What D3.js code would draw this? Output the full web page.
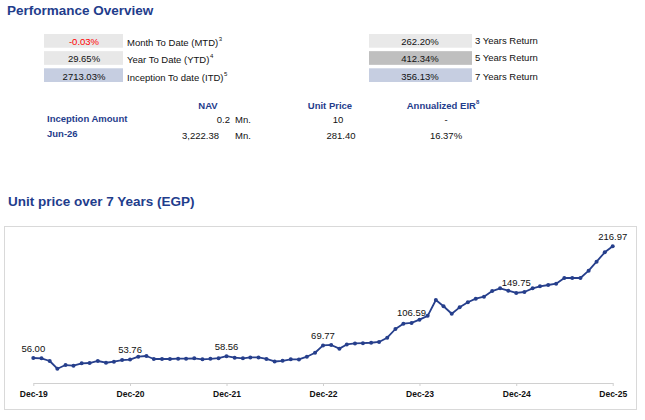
<!DOCTYPE html>
<html><head><meta charset="utf-8">
<script src="https://cdn.jsdelivr.net/npm/d3@7"></script>
<style>
body{margin:0;background:#fff;}
svg{display:block;font-family:"Liberation Sans",Arial,sans-serif;}
</style></head>
<body>
<svg id="c" width="645" height="420"></svg>
<script>
// ---------- data ----------
const perfValues = ["-0.03%", "29.65%", "2713.03%"];
const perfLabels = ["Month To Date (MTD)", "Year To Date (YTD)", "Inception To date (ITD)"];
const perfNotes = ["3", "4", "5"];
const retValues = ["262.20%", "412.34%", "356.13%"];
const retLabels = ["3 Years Return", "5 Years Return", "7 Years Return"];

const navHeaders = ["NAV", "Unit Price", "Annualized EIR"];
const navRowNames = ["Inception Amount", "Jun-26"];
const navAmounts = ["0.2", "3,222.38"];
const navUnits = ["Mn.", "Mn."];
const navPrices = ["10", "281.40"];
const navEIR = ["-", "16.37%"];

const months = [
  "2019-12",
  "2020-01","2020-02","2020-03","2020-04","2020-05","2020-06","2020-07","2020-08","2020-09","2020-10","2020-11","2020-12",
  "2021-01","2021-02","2021-03","2021-04","2021-05","2021-06","2021-07","2021-08","2021-09","2021-10","2021-11","2021-12",
  "2022-01","2022-02","2022-03","2022-04","2022-05","2022-06","2022-07","2022-08","2022-09","2022-10","2022-11","2022-12",
  "2023-01","2023-02","2023-03","2023-04","2023-05","2023-06","2023-07","2023-08","2023-09","2023-10","2023-11","2023-12",
  "2024-01","2024-02","2024-03","2024-04","2024-05","2024-06","2024-07","2024-08","2024-09","2024-10","2024-11","2024-12",
  "2025-01","2025-02","2025-03","2025-04","2025-05","2025-06","2025-07","2025-08","2025-09","2025-10","2025-11","2025-12"
];
const unitPrice = [
  56.00,
  55.6, 51.7, 40.6, 45.9, 44.9, 48.4, 48.8, 51.7, 49.2, 50.7, 53.1, 53.76,
  57.9, 58.9, 54.6, 54.6, 54.6, 55.0, 55.0, 55.5, 54.1, 54.8, 55.8, 58.56,
  56.5, 55.5, 56.8, 56.8, 54.6, 51.0, 51.9, 54.1, 53.9, 57.9, 63.6, 74.2,
  74.8, 69.5, 75.5, 77.0, 77.4, 78.0, 79.1, 85.3, 97.8, 105.4, 106.59, 111.3,
  116.8, 139.6, 130.6, 119.8, 129.0, 136.3, 141.5, 144.4, 152.5, 156.4, 153.0, 149.75,
  151.1, 156.4, 159.3, 161.2, 163.1, 171.3, 171.3, 171.3, 181.8, 194.8, 208.3, 216.97
];
const labelMonths = ["2019-12", "2020-12", "2021-12", "2022-12", "2023-11", "2024-12", "2025-12"];
const labelTexts = ["56.00", "53.76", "58.56", "69.77", "106.59", "149.75", "216.97"];
const tickMonths = ["2019-12", "2020-12", "2021-12", "2022-12", "2023-12", "2024-12", "2025-12"];
const tickLabels = ["Dec-19", "Dec-20", "Dec-21", "Dec-22", "Dec-23", "Dec-24", "Dec-25"];

// ---------- drawing ----------
const svg = d3.select("#c");
const BLUE = "#1f3d8c";
const TXT = "#111";
const parse = d3.timeParse("%Y-%m");

// Titles
svg.append("text").attr("x", 7).attr("y", 14.5)
  .attr("font-size", 13.5).attr("font-weight", "bold").attr("fill", BLUE)
  .text("Performance Overview");
svg.append("text").attr("x", 8).attr("y", 206)
  .attr("font-size", 13.5).attr("font-weight", "bold").attr("fill", BLUE)
  .text("Unit price over 7 Years (EGP)");

// Performance boxes
const rowY = d3.scaleBand().domain(d3.range(3)).range([34, 82]).paddingInner(0.2);
const leftFill = ["#e8e8e8", "#e8e8e8", "#c6cee1"];
const rightFill = ["#e9e9e9", "#bfbfbf", "#c6cee1"];

const left = svg.append("g");
left.selectAll("rect").data(perfValues).join("rect")
  .attr("x", 44).attr("width", 79)
  .attr("y", (d, i) => rowY(i)).attr("height", rowY.bandwidth())
  .attr("fill", (d, i) => leftFill[i]);
left.selectAll("text.v").data(perfValues).join("text").attr("class", "v")
  .attr("x", 84).attr("y", (d, i) => rowY(i) + rowY.bandwidth() - 2.5)
  .attr("text-anchor", "middle").attr("font-size", 9.5)
  .attr("fill", d => d.startsWith("-") ? "#ff0000" : TXT).text(d => d);
const ll = left.selectAll("text.l").data(perfLabels).join("text").attr("class", "l")
  .attr("x", 127).attr("y", (d, i) => rowY(i) + rowY.bandwidth() - 1.5 + (i === 2 ? 0.5 : 0))
  .attr("font-size", 9.5).attr("fill", TXT);
ll.append("tspan").text(d => d);
ll.append("tspan").attr("font-size", 6).attr("dy", -5).attr("dx", 0.5).text((d, i) => perfNotes[i]);

const right = svg.append("g");
right.selectAll("rect").data(retValues).join("rect")
  .attr("x", 369).attr("width", 103)
  .attr("y", (d, i) => rowY(i)).attr("height", rowY.bandwidth())
  .attr("fill", (d, i) => rightFill[i]);
right.selectAll("text.v").data(retValues).join("text").attr("class", "v")
  .attr("x", 420).attr("y", (d, i) => rowY(i) + rowY.bandwidth() - 2.5)
  .attr("text-anchor", "middle").attr("font-size", 9.5).attr("fill", TXT).text(d => d);
right.selectAll("text.l").data(retLabels).join("text").attr("class", "l")
  .attr("x", 475).attr("y", (d, i) => rowY(i) + rowY.bandwidth() - 3.5 + (i === 2 ? 1.5 : 0))
  .attr("font-size", 9.5).attr("fill", TXT).text(d => d);

// NAV table
const nav = svg.append("g");
const headerX = [208, 330, 443];
nav.selectAll("text.h").data(navHeaders).join("text").attr("class", "h")
  .attr("x", (d, i) => headerX[i]).attr("y", 109)
  .attr("text-anchor", "middle").attr("font-size", 9.5).attr("font-weight", "bold").attr("fill", BLUE)
  .each(function (d, i) {
    const t = d3.select(this);
    t.append("tspan").text(d);
    if (i === 2) t.append("tspan").attr("font-size", 6).attr("dy", -5).text("8");
  });
const navRowY = [122, 138];
nav.selectAll("text.r").data(navRowNames).join("text").attr("class", "r")
  .attr("x", 47).attr("y", (d, i) => navRowY[i] - (i === 0 ? 0 : 1))
  .attr("font-size", 9.5).attr("font-weight", "bold").attr("fill", BLUE).text(d => d);
const amtRight = [230, 219];
nav.selectAll("text.a").data(navAmounts).join("text").attr("class", "a")
  .attr("x", (d, i) => amtRight[i]).attr("y", (d, i) => navRowY[i] + 1)
  .attr("text-anchor", "end").attr("font-size", 9.5).attr("fill", TXT).text(d => d);
nav.selectAll("text.u").data(navUnits).join("text").attr("class", "u")
  .attr("x", 235).attr("y", (d, i) => navRowY[i] + 1)
  .attr("font-size", 9.5).attr("fill", TXT).text(d => d);
nav.selectAll("text.p").data(navPrices).join("text").attr("class", "p")
  .attr("x", (d, i) => i === 0 ? 338 : 341).attr("y", (d, i) => navRowY[i] + 1)
  .attr("text-anchor", "middle").attr("font-size", 9.5).attr("fill", TXT).text(d => d);
nav.selectAll("text.e").data(navEIR).join("text").attr("class", "e")
  .attr("x", 446).attr("y", (d, i) => navRowY[i] + 1)
  .attr("text-anchor", "middle").attr("font-size", 9.5).attr("fill", TXT).text(d => d);

// Chart frame
svg.append("rect").attr("x", 4.5).attr("y", 226.5).attr("width", 632).attr("height", 183)
  .attr("fill", "none").attr("stroke", "#d9d9d9").attr("stroke-width", 1);

// Scales
const data = months.map((m, i) => ({ date: parse(m), value: unitPrice[i] }));
const x = d3.scaleTime().domain([parse("2019-12"), parse("2025-12")]).range([33.3, 612.7]);
const y = d3.scaleLinear().domain([20, 240]).range([383, 230.3]);

// X axis
const axis = d3.axisBottom(x)
  .tickValues(tickMonths.map(parse))
  .tickFormat((d, i) => tickLabels[i])
  .tickSize(3).tickPadding(4.5).tickSizeOuter(0);
const ax = svg.append("g").attr("transform", `translate(0,${y(20)})`).call(axis);
ax.select(".domain").attr("stroke", "#d0d0d0");
ax.selectAll(".tick line").attr("stroke", "#d0d0d0");
ax.selectAll(".tick text").attr("font-family", "Liberation Sans, Arial, sans-serif")
  .attr("font-size", 8.5).attr("font-weight", "bold").attr("fill", "#111");

// Line
const LINE = "#263f8c";
svg.append("path").datum(data)
  .attr("fill", "none").attr("stroke", LINE).attr("stroke-width", 1.8).attr("stroke-linejoin", "round")
  .attr("d", d3.line().x(d => x(d.date)).y(d => y(d.value)));
svg.append("g").selectAll("circle").data(data).join("circle")
  .attr("cx", d => x(d.date)).attr("cy", d => y(d.value)).attr("r", 2)
  .attr("fill", LINE);

// Data labels
const valueAt = m => unitPrice[months.indexOf(m)];
svg.append("g").selectAll("text").data(labelMonths).join("text")
  .attr("x", m => x(parse(m))).attr("y", m => y(valueAt(m)) - 6.5)
  .attr("text-anchor", "middle").attr("font-size", 9.5).attr("fill", "#111")
  .text((m, i) => labelTexts[i]);
</script>
</body></html>
